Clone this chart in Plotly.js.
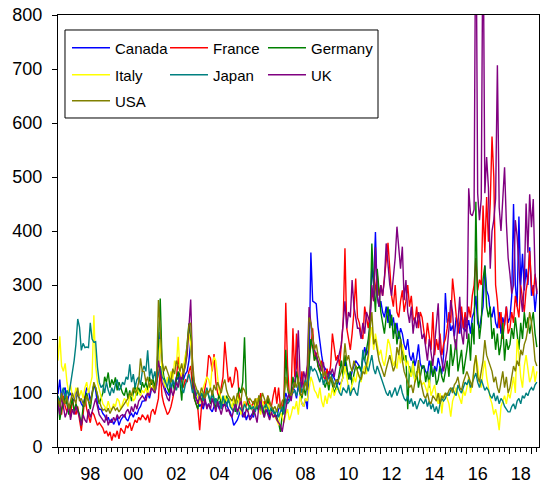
<!DOCTYPE html>
<html><head><meta charset="utf-8">
<script src="https://cdn.plot.ly/plotly-3.0.1.min.js"></script>
<style>html,body{margin:0;padding:0;background:#fff}#chart{width:540px;height:484px}</style>
</head><body><div id="chart"></div>
<script>
// Monthly index values, 1997M01 .. 2019M04 (12 values per year)
const startYear = 1997;
const canada = [
98,125,85,105,110,80,95,100,90,85,105,95,
90,80,75,95,110,105,85,100,115,105,80,70,
70,62,58,50,55,45,52,42,48,55,40,50,
55,60,52,48,58,62,55,65,60,70,75,85,
85,95,100,90,105,110,100,115,150,213,140,120,
105,100,95,110,120,115,130,125,140,130,125,135,
140,160,195,130,100,90,85,75,80,70,85,75,
80,70,65,75,90,80,70,85,75,90,80,70,
65,55,40,45,50,60,70,55,65,50,60,55,
60,55,70,75,65,80,70,60,75,65,55,70,
65,60,55,70,75,65,80,100,90,85,95,110,
105,90,115,95,80,75,90,70,150,360,270,268,
265,222,190,170,150,145,140,130,125,135,128,120,
125,115,120,130,160,140,135,125,140,150,160,155,
150,140,165,185,170,180,230,337,300,398,280,260,
270,250,240,260,230,255,225,240,210,230,200,220,
210,190,180,200,170,160,175,150,165,190,155,145,
150,140,135,160,145,130,150,140,165,150,135,170,
285,230,240,215,225,205,240,230,210,250,220,215,
220,235,210,240,250,280,230,220,240,260,336,290,
280,250,240,260,230,220,250,210,240,225,260,230,
240,280,450,300,260,427,300,358,290,330,300,370,
280,300,250,290];
const france = [
70,85,60,95,75,65,80,55,90,70,60,75,
50,30,60,95,70,55,45,65,60,50,40,45,
40,35,25,30,20,28,12,25,18,30,15,35,
30,25,40,35,45,30,40,50,45,55,50,60,
55,50,60,45,65,70,60,75,90,142,95,80,
70,60,65,75,90,110,125,167,140,120,110,125,
120,140,150,110,90,80,70,31,75,90,110,130,
170,165,140,172,120,100,90,110,130,195,150,120,
130,110,120,148,140,95,80,70,85,75,90,80,
75,85,70,90,80,100,75,85,70,95,80,75,
95,111,80,110,75,70,90,267,150,95,100,220,
130,210,120,100,140,110,125,150,170,185,220,160,
175,150,140,160,130,125,145,130,150,210,180,160,
170,150,190,230,368,220,200,180,210,250,312,240,
230,210,200,260,240,220,250,290,270,300,320,280,
300,280,310,340,378,330,280,260,300,250,240,270,
290,250,270,300,260,280,240,230,260,220,250,240,
210,190,230,200,180,250,170,200,180,210,170,190,
200,220,250,230,312,280,240,210,230,260,220,250,
230,260,240,280,300,350,290,310,300,447,360,463,
380,450,575,500,300,270,220,250,200,230,260,210,
220,250,230,280,260,240,300,270,250,290,310,363,
300,280,320,290];
const germany = [
90,50,70,85,95,80,60,75,90,65,80,70,
60,40,75,90,100,85,70,95,115,110,95,80,
90,100,130,120,138,110,125,115,129,105,120,110,
100,95,110,90,105,85,100,115,95,110,100,120,
110,120,105,130,115,125,110,140,190,275,160,130,
120,110,100,130,115,105,125,140,120,86,140,160,
190,229,200,130,90,80,70,95,85,100,90,105,
95,80,105,90,70,85,100,75,90,80,95,85,
80,70,85,65,90,110,100,120,203,95,80,70,
75,60,85,70,95,65,80,55,75,90,60,70,
70,60,55,45,28,60,75,180,110,90,100,130,
110,140,120,100,90,110,95,120,150,200,185,160,
170,150,140,130,120,110,125,105,130,115,100,110,
120,140,160,130,170,150,125,140,115,135,150,145,
150,140,170,160,180,200,230,377,300,250,330,280,
250,230,210,240,260,220,245,200,230,190,215,200,
180,160,170,70,150,130,160,120,140,110,130,150,
150,120,140,110,160,130,145,115,125,150,130,120,
140,160,130,190,150,170,200,140,160,180,135,155,
180,210,160,230,190,454,250,200,230,310,336,260,
240,260,200,220,180,210,170,190,230,160,200,180,
190,220,200,240,210,180,230,200,250,220,240,210,
230,250,210,185];
const italy = [
160,205,150,140,155,120,100,115,95,90,110,100,
95,105,90,110,120,100,115,130,244,150,120,105,
90,80,75,70,85,72,68,80,75,90,85,70,
80,90,85,75,95,100,85,90,110,100,95,105,
100,110,95,120,105,115,100,125,140,200,140,120,
110,130,115,140,125,160,150,204,140,130,150,170,
180,210,190,140,120,100,90,80,100,110,120,130,
125,110,150,167,160,130,100,90,80,95,85,90,
85,70,90,75,95,80,60,75,85,70,65,80,
75,65,80,90,70,60,85,75,65,80,70,60,
60,55,50,40,65,55,45,60,70,50,60,75,
70,85,60,95,80,75,90,85,110,130,120,105,
100,90,110,85,74,95,80,100,90,110,95,105,
110,100,120,130,150,125,110,100,115,130,120,140,
130,120,140,150,135,160,200,222,180,210,190,170,
180,160,150,170,200,190,170,150,160,145,175,155,
190,170,150,160,140,130,155,120,135,145,125,115,
120,110,100,125,95,105,115,90,80,100,62,95,
100,90,80,56,85,95,110,100,90,80,105,95,
110,130,100,120,140,170,150,120,110,140,160,130,
110,90,80,60,70,55,31,75,85,95,80,100,
90,110,130,100,200,170,130,110,150,170,140,120,
130,150,120,140];
const japan = [
95,85,100,110,90,105,95,115,136,160,190,237,
222,179,192,184,185,184,230,200,194,195,148,120,
110,115,100,120,105,95,110,100,115,125,105,110,
120,115,130,125,153,120,135,110,125,130,115,140,
150,140,179,130,145,125,140,120,135,150,130,125,
120,110,130,100,125,115,105,120,130,110,100,115,
125,135,120,100,110,95,105,90,100,85,95,110,
95,85,100,80,90,75,85,70,95,80,75,90,
75,70,65,80,60,75,70,65,80,72,68,78,
70,75,65,80,72,85,68,75,80,70,65,75,
65,60,70,55,65,75,60,90,80,85,95,100,
105,95,110,120,100,115,125,110,130,150,140,145,
140,130,120,135,115,125,120,130,140,125,115,120,
110,100,95,110,105,100,115,95,105,110,100,95,
120,130,180,160,150,140,155,170,145,135,150,140,
130,120,110,100,95,105,92,100,110,95,105,115,
100,90,85,95,80,90,75,85,70,80,90,85,
80,90,75,85,70,80,65,75,62,80,90,85,
90,100,95,105,110,100,95,115,105,100,110,120,
115,125,110,120,130,137,120,110,125,115,105,110,
105,95,90,100,85,95,80,90,85,75,70,65,
65,75,80,70,85,90,80,95,90,100,95,105,
110,105,115,120];
const uk = [
80,60,95,70,55,65,80,50,70,60,75,65,
55,40,60,50,45,70,55,65,80,90,75,60,
55,50,45,60,40,50,45,55,48,60,52,58,
60,55,65,70,60,75,65,80,70,85,90,95,
90,85,100,95,110,105,100,120,160,140,120,110,
100,90,85,110,95,105,120,110,130,125,140,150,
170,220,273,150,110,90,80,95,85,75,90,70,
80,70,90,75,65,85,70,60,75,80,65,70,
60,55,70,80,65,75,90,60,55,70,65,50,
55,70,60,45,75,90,65,55,70,60,50,65,
55,60,50,45,40,28,50,75,90,100,85,110,
120,150,216,130,110,140,125,150,259,230,200,180,
170,160,150,140,157,130,125,140,135,145,130,150,
160,175,190,230,270,220,250,240,309,260,240,220,
220,200,230,210,250,240,230,300,270,370,280,260,
300,280,310,377,330,300,280,320,350,408,360,330,
371,272,309,250,230,260,210,240,220,250,230,200,
210,180,160,200,170,150,190,230,266,180,160,140,
160,180,220,272,250,200,180,230,278,210,190,240,
200,479,432,428,440,1050,470,420,460,1000,470,537,
480,330,400,420,460,707,444,400,470,518,416,350,
320,284,300,420,390,330,280,250,300,451,360,468,
407,459,321,283];
const usa = [
90,75,100,85,80,95,70,85,100,90,80,110,
85,90,80,75,95,85,80,100,120,110,95,85,
75,68,70,65,72,62,70,75,68,72,65,70,
75,80,85,90,100,95,110,100,105,120,164,140,
140,120,130,110,125,115,105,130,272,220,160,140,
150,140,130,120,145,135,160,150,140,155,135,150,
190,225,230,160,120,110,100,95,110,100,90,105,
100,110,95,115,105,120,110,100,115,125,105,95,
90,85,95,80,100,90,85,110,105,95,85,90,
85,80,90,75,95,85,100,90,80,95,85,75,
70,75,65,80,70,85,90,130,110,100,95,105,
120,110,130,100,95,110,120,105,240,230,200,180,
190,170,160,150,130,140,125,115,130,120,110,125,
120,130,140,150,192,160,170,150,140,160,150,140,
130,125,140,135,150,170,220,250,190,200,180,160,
150,140,130,145,160,170,155,140,150,185,170,200,
160,140,130,120,110,115,100,120,130,161,125,110,
95,90,100,85,80,95,90,85,100,80,95,90,
100,95,105,110,100,115,120,130,110,105,120,130,
140,130,120,110,150,170,130,120,140,160,198,170,
160,150,140,120,130,110,100,120,140,110,130,100,
110,130,150,140,160,150,180,170,190,200,220,250,
230,200,160,150];

const seriesNames = ['Canada','France','Germany','Italy','Japan','UK','USA'];
const seriesValues = [canada, france, germany, italy, japan, uk, usa];
const seriesColors = ['#0000FF','#FF0000','#008000','#FFFF00','#008080','#800080','#808000'];
const seriesLegend = ['legend','legend','legend','legend2','legend2','legend2','legend3'];

const yTicks = [0,100,200,300,400,500,600,700,800];
const yearTicks = [1997,1998,1999,2000,2001,2002,2003,2004,2005,2006,2007,2008,2009,2010,2011,2012,2013,2014,2015,2016,2017,2018,2019];
const labelPos = [1998.5,2000.5,2002.5,2004.5,2006.5,2008.5,2010.5,2012.5,2014.5,2016.5,2018.5];
const labelText = ['98','00','02','04','06','08','10','12','14','16','18'];

const quarterTicks = [];
yearTicks.forEach(y => { quarterTicks.push(y + 0.25, y + 0.5, y + 0.75); });

const FONT = 'Arial, "Liberation Sans", Helvetica, sans-serif';
const xRange = [1997, 2019.35];

const traces = seriesNames.map((name, k) => ({
  type: 'scatter', mode: 'lines', name: name,
  x: seriesValues[k].map((_, i) => startYear + i / 12),
  y: seriesValues[k],
  line: {color: seriesColors[k], width: 1.4},
  legend: seriesLegend[k],
  legendwidth: (k === 2 || k === 5 || k === 6) ? 80 : undefined,
  hoverinfo: 'skip'
}));

// empty carrier so the label axis (x2) gets drawn
traces.push({
  type: 'scatter', mode: 'lines', x: labelPos, y: labelPos.map(() => null),
  xaxis: 'x2', yaxis: 'y', showlegend: false, hoverinfo: 'skip'
});

const legendBase = {
  orientation: 'h', x: 0.0187, xanchor: 'left', yanchor: 'middle',
  bgcolor: 'rgba(0,0,0,0)', borderwidth: 0,
  font: {family: FONT, size: 15, color: '#000'},
  itemwidth: 38, entrywidth: 45, tracegroupgap: 0
};

const layout = {
  width: 540, height: 484,
  margin: {l: 58, r: 1, t: 15, b: 37, pad: 0},
  paper_bgcolor: '#fff', plot_bgcolor: '#fff',
  font: {family: FONT, color: '#000'},
  showlegend: true,
  legend: Object.assign({}, legendBase, {y: 0.9236}),
  legend2: Object.assign({}, legendBase, {y: 0.8611}),
  legend3: Object.assign({}, legendBase, {y: 0.8009}),
  xaxis: {
    range: xRange, tickmode: 'array', tickvals: yearTicks, showticklabels: false,
    ticks: 'outside', ticklen: 6, tickwidth: 1, tickcolor: '#000',
    minor: {tickmode: 'array', tickvals: quarterTicks, ticks: 'outside', ticklen: 4, tickwidth: 1, tickcolor: '#000'},
    showline: true, linecolor: '#000', linewidth: 1, mirror: true,
    showgrid: false, zeroline: false
  },
  xaxis2: {
    overlaying: 'x', anchor: 'y', side: 'bottom', range: xRange,
    tickmode: 'array', tickvals: labelPos, ticktext: labelText,
    ticks: '', ticklabelstandoff: 14,
    tickfont: {family: FONT, size: 18, color: '#000'},
    showline: false, showgrid: false, zeroline: false
  },
  yaxis: {
    range: [0, 800], tickmode: 'array', tickvals: yTicks,
    ticks: 'outside', ticklen: 5, tickwidth: 1, tickcolor: '#000',
    tickfont: {family: FONT, size: 18, color: '#000'},
    ticklabelstandoff: 6,
    showline: true, linecolor: '#000', linewidth: 1, mirror: true,
    showgrid: false, zeroline: false
  },
  shapes: [{
    type: 'rect', xref: 'paper', yref: 'paper',
    x0: 0.01455, x1: 0.6653, y0: 0.7616, y1: 0.9653,
    line: {color: '#000', width: 1}, fillcolor: '#fff', layer: 'above'
  }]
};

Plotly.newPlot('chart', traces, layout, {staticPlot: true, displayModeBar: false});
</script>
</body></html>
